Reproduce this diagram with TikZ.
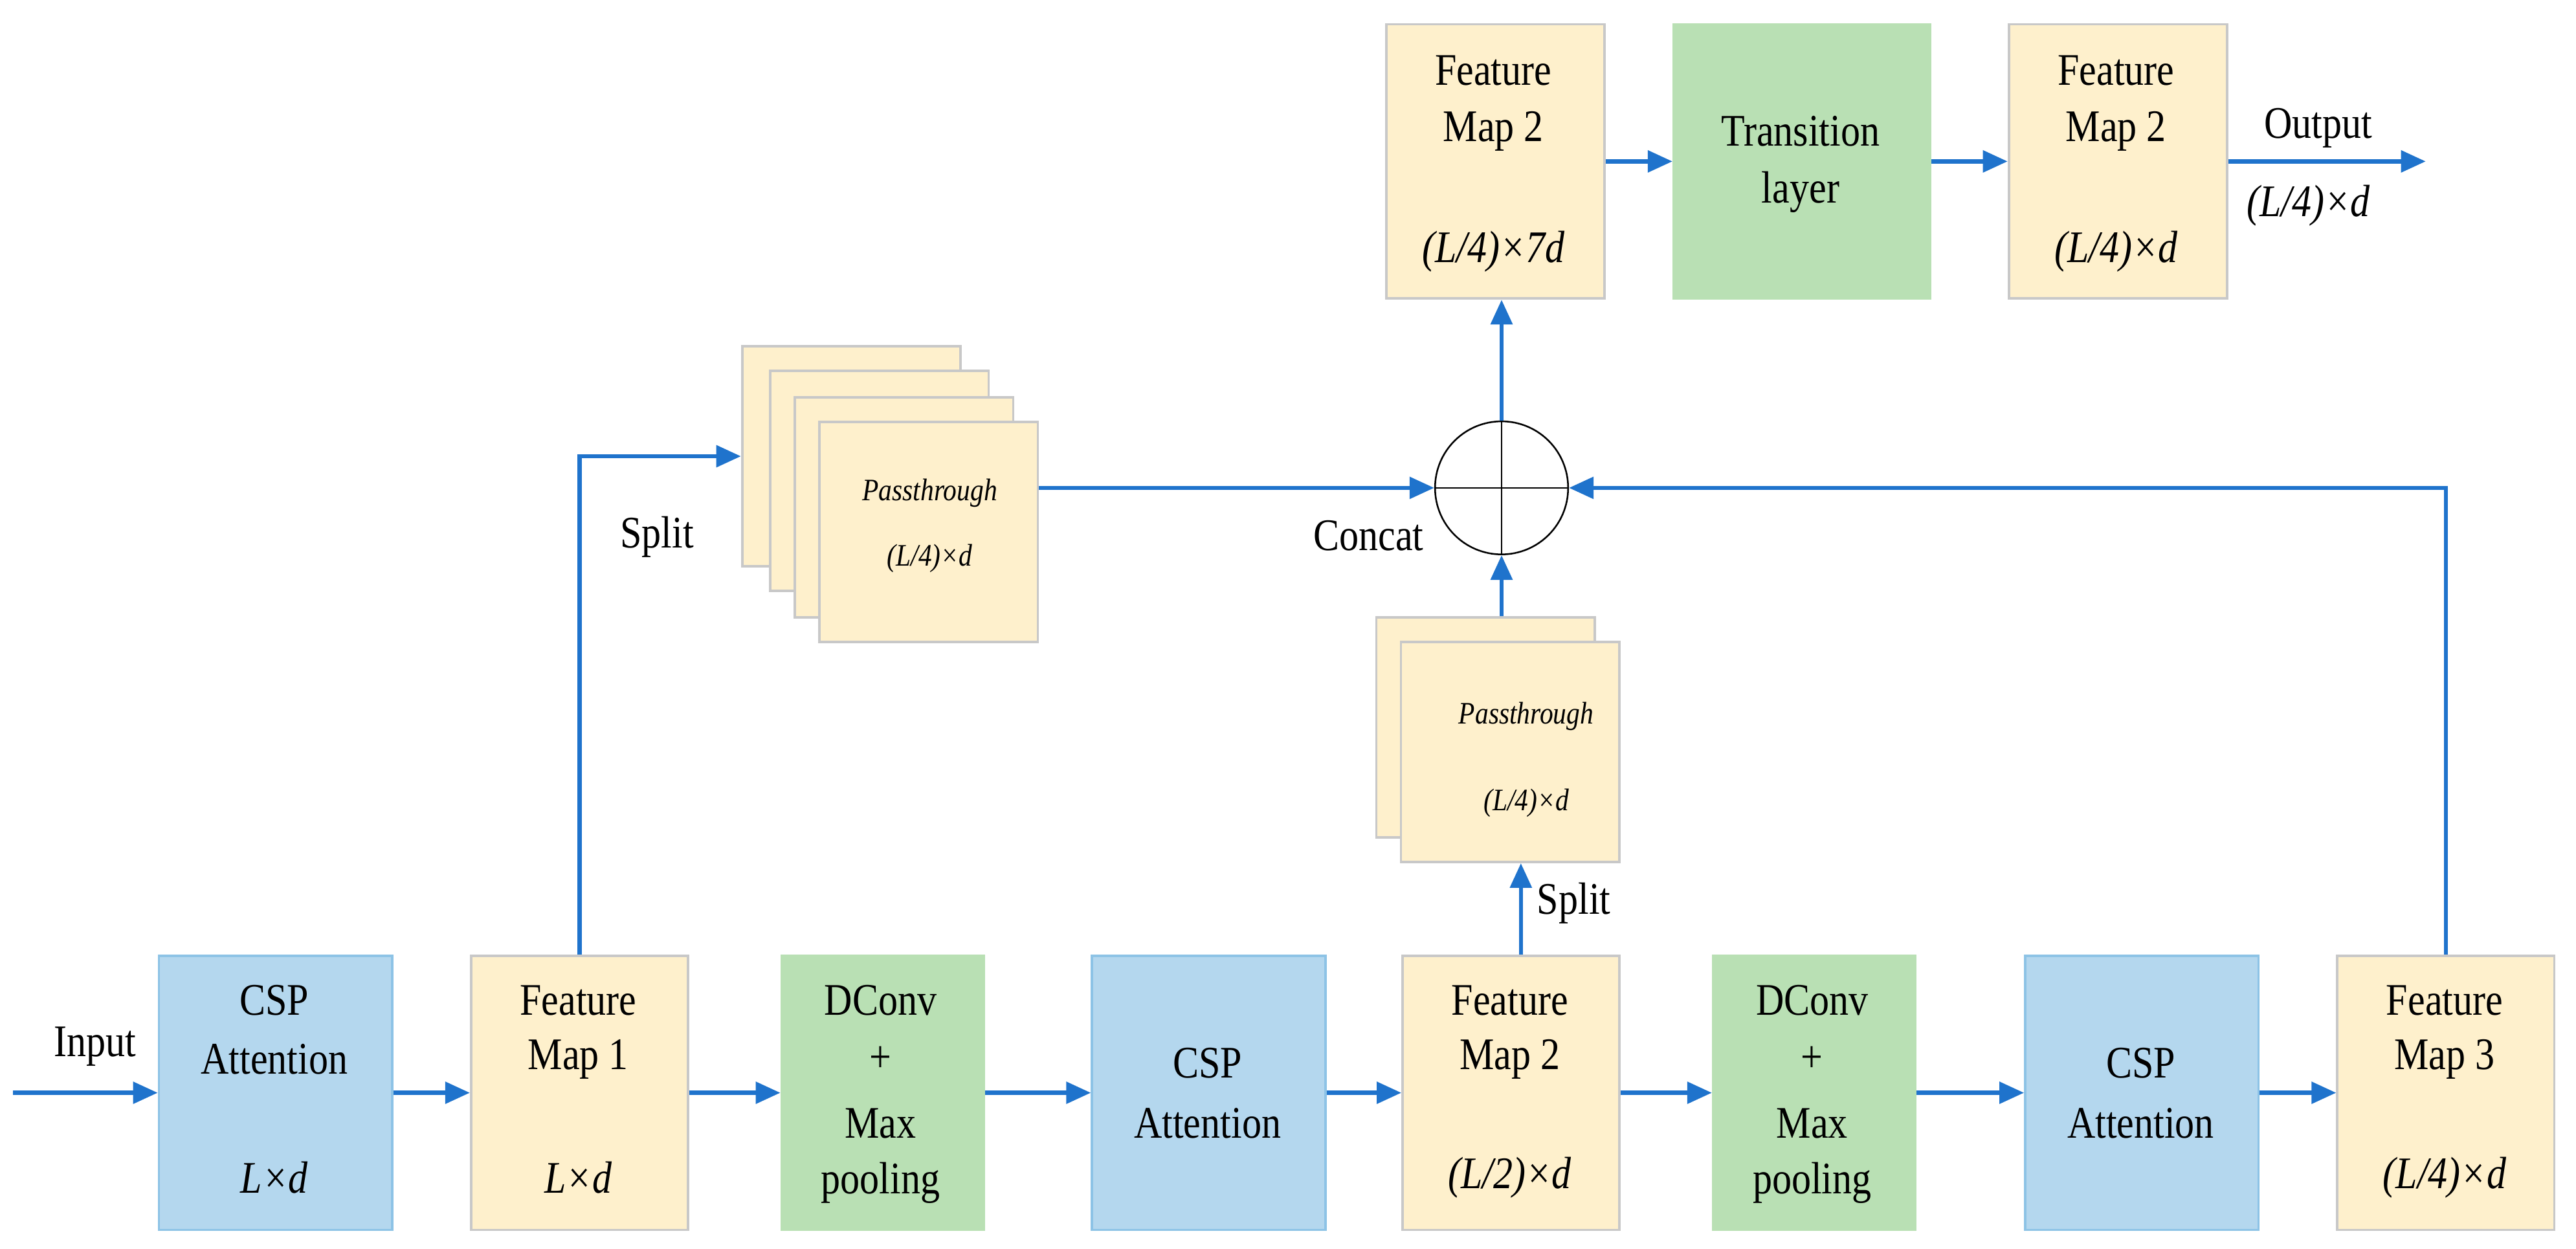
\documentclass[tikz,border=0pt]{standalone}
\usepackage{fontspec}
\setmainfont[FakeStretch=0.86]{Liberation Serif}
\usetikzlibrary{arrows.meta}
\definecolor{bfill}{HTML}{B4D7EE}\definecolor{bdraw}{HTML}{8DC3E6}
\definecolor{yfill}{HTML}{FEF0CC}\definecolor{ydraw}{HTML}{C8C8C8}
\definecolor{gfill}{HTML}{B9E0B4}\definecolor{arr}{HTML}{1F73CC}
\begin{document}
\begin{tikzpicture}[x=1pt,y=-1pt,
 box/.style={draw,line width=1.5pt,inner sep=0,anchor=north west},
 blue/.style={box,fill=bfill,draw=bdraw},
 yel/.style={box,fill=yfill,draw=ydraw},
 grn/.style={box,fill=gfill,draw=gfill},
 t/.style={font=\fontsize{27.5}{27.5}\selectfont,inner sep=0},
 s/.style={font=\fontsize{19}{19}\selectfont\itshape,inner sep=0},
 a/.style={draw=arr,line width=2.5pt,-{Triangle[length=15pt,width=13pt]}},
 l/.style={draw=arr,line width=2.5pt}]
\useasboundingbox (0,0) rectangle (1568,760);
% bottom row
\node[blue,minimum width=142pt,minimum height=167pt] (c1) at (96,581) {};
\node[yel,minimum width=132pt,minimum height=167pt] (f1) at (286,581) {};
\node[grn,minimum width=123pt,minimum height=167pt] (d1) at (475,581) {};
\node[blue,minimum width=142pt,minimum height=167pt] (c2) at (664,581) {};
\node[yel,minimum width=132pt,minimum height=167pt] (f2) at (853,581) {};
\node[grn,minimum width=123pt,minimum height=167pt] (d2) at (1042,581) {};
\node[blue,minimum width=142pt,minimum height=167pt] (c3) at (1232,581) {};
\node[yel,minimum width=132pt,minimum height=167pt] (f3) at (1422,581) {};
% top row
\node[yel,minimum width=133pt,minimum height=167pt] (t1) at (843,14) {};
\node[grn,minimum width=156pt,minimum height=167pt] (tr) at (1018,14) {};
\node[yel,minimum width=133pt,minimum height=167pt] (t2) at (1222,14) {};
% stacks
\node[yel,minimum width=133pt,minimum height=134pt] (p1a) at (451,210) {};
\node[yel,minimum width=133pt,minimum height=134pt] (p1b) at (468,225) {};
\node[yel,minimum width=133pt,minimum height=134pt] (p1c) at (483,241) {};
\node[yel,minimum width=133pt,minimum height=134pt] (p1) at (498,256) {};
\node[yel,minimum width=133pt,minimum height=134pt] (p2a) at (837,375) {};
\node[yel,minimum width=133pt,minimum height=134pt] (p2) at (852,390) {};
% circle
\node[draw,circle,line width=1pt,minimum size=81pt,inner sep=0] (cc) at (914,297) {};
\draw[line width=1pt] (cc.north)--(cc.south) (cc.west)--(cc.east);
% texts
\node[t] (x1) at (167,609) {CSP}; \node[t] (x2) at (167,645) {Attention}; \node[t] (x3) at (167,717) {\itshape L×d};
\node[t] (x4) at (352,609) {Feature}; \node[t] (x5) at (352,645) {Map 1}; \node[t] (x6) at (352,717) {\itshape L×d};
\node[t] (x7) at (536,609) {DConv}; \node[t] (x8) at (536,645) {+}; \node[t] (x9) at (536,684) {Max}; \node[t] (x10) at (536,720) {pooling};
\node[t] (x11) at (735,647) {CSP}; \node[t] (x12) at (735,684) {Attention};
\node[t] (x13) at (919,609) {Feature}; \node[t] (x14) at (919,645) {Map 2}; \node[t] (x15) at (919,717) {\itshape (L/2)×d};
\node[t] (x16) at (1103,609) {DConv}; \node[t] (x17) at (1103,645) {+}; \node[t] (x18) at (1103,684) {Max}; \node[t] (x19) at (1103,720) {pooling};
\node[t] (x20) at (1303,647) {CSP}; \node[t] (x21) at (1303,684) {Attention};
\node[t] (x22) at (1488,609) {Feature}; \node[t] (x23) at (1488,645) {Map 3}; \node[t] (x24) at (1488,717) {\itshape (L/4)×d};
\node[t] (y1) at (909,43) {Feature}; \node[t] (y2) at (909,80) {Map 2}; \node[t] (y3) at (909,153) {\itshape (L/4)×7d};
\node[t] (y4) at (1096,80) {Transition}; \node[t] (y5) at (1096,117) {layer};
\node[t] (y6) at (1288,43) {Feature}; \node[t] (y7) at (1288,80) {Map 2}; \node[t] (y8) at (1288,153) {\itshape (L/4)×d};
\node[s] (s1) at (566,300) {Passthrough}; \node[s] (s2) at (566,340) {(L/4)×d};
\node[s] (s3) at (929,436) {Passthrough}; \node[s] (s4) at (929,489) {(L/4)×d};
\node[t] (in) at (58,637) {Input};
\node[t] (sp1) at (400,327) {Split};
\node[t] (sp2) at (958,550) {Split};
\node[t] (cn) at (833,326) {Concat};
\node[t] (out) at (1411,78) {Output};
\node[t] (outd) at (1405,125) {\itshape (L/4)×d};
% arrows
\coordinate (i0) at ([xshift=-88pt]c1.west); \coordinate (o1) at ([xshift=120pt]t2.east);
\draw[a] (i0) -- (c1.west);
\draw[a] (c1.east) -- (f1.west); \draw[a] (f1.east) -- (d1.west);
\draw[a] (d1.east) -- (c2.west); \draw[a] (c2.east) -- (f2.west);
\draw[a] (f2.east) -- (d2.west); \draw[a] (d2.east) -- (c3.west);
\draw[a] (c3.east) -- (f3.west);
\draw[a] (t1.east) -- (tr.west); \draw[a] (tr.east) -- (t2.west);
\draw[a] (t2.east) -- (o1);
\draw[a] (f1.north) |- (p1a.west);
\draw[a] (p1.east |- cc) -- (cc.west);
\draw[a] (p2a.north -| cc) -- (cc.south);
\draw[a] (cc.north) -- (cc |- t1.south);
\draw[a] ([xshift=6pt]f2.north) -- ([xshift=6pt]f2.north |- p2.south);
\draw[a] (f3.north) |- (cc.east);
\end{tikzpicture}
\end{document}
